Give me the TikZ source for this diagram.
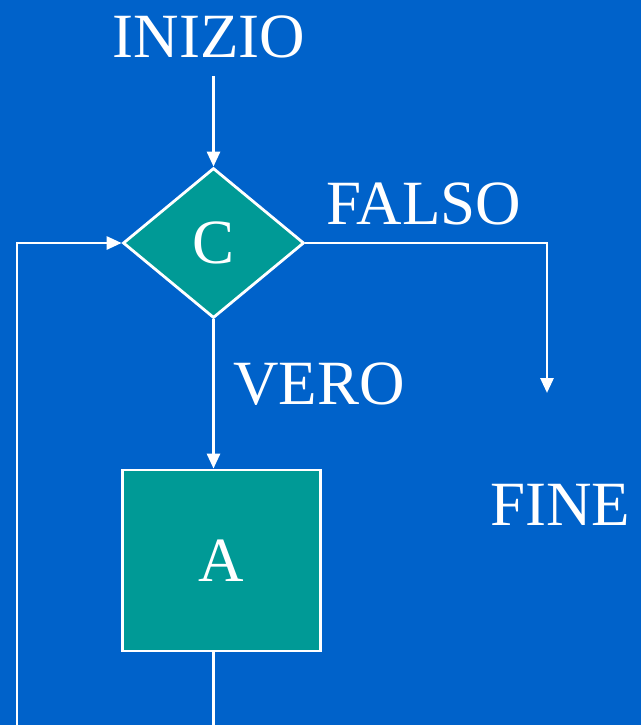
\documentclass[tikz,border=0pt]{standalone}
\usepackage{fontspec}
\setmainfont{Liberation Serif}
\usetikzlibrary{shapes.geometric,arrows.meta}
\definecolor{bgblue}{HTML}{0062CA}
\definecolor{boxteal}{HTML}{009A96}
\begin{document}
\begin{tikzpicture}[x=1pt,y=-1pt,
  flow/.style={draw=white,line width=2.8pt},
  arrowline/.style={flow,-{Triangle[length=15pt,width=13pt]}},
  lbl/.style={text=white,font=\fontsize{63}{63}\selectfont,inner sep=0pt,anchor=base},
  decision/.style={diamond,draw=white,fill=boxteal,line width=2.8pt,inner sep=0pt,
    minimum width=181pt,minimum height=150pt,text=white,font=\fontsize{63}{63}\selectfont},
  block/.style={rectangle,draw=white,fill=boxteal,line width=2.8pt,inner sep=0pt,
    minimum width=198pt,minimum height=181pt,text=white,font=\fontsize{63}{63}\selectfont}]
  % canvas
  \fill[bgblue] (0,0) rectangle (641,725);
  \useasboundingbox (0,0) rectangle (641,725);
  \clip (0,0) rectangle (641,725);

  % labels
  \node[lbl] (inizio) at (209,57) {INIZIO};
  \node[lbl] (falso) at (424,224) {FALSO};
  \node[lbl] (vero) at (319,404) {VERO};
  \node[lbl] (fine) at (560,525) {FINE};

  % blocks
  \node[decision] (c) at (213.5,243) {\raisebox{-3.5pt}{C}};
  \node[block] (a) at (221.7,560.5) {A};

  % free ends
  \coordinate (falsoend) at (547,393);
  \coordinate (loopbottom) at (17,780);

  % connectors
  \draw[arrowline,shorten <=18pt] (inizio.south -| c.north) -- (c.north);
  \draw[arrowline] (c.east) -| (falsoend);
  \draw[arrowline] (c.south) -- (a.north -| c.south);
  \draw[arrowline] (a.south -| c.south) |- (loopbottom) |- (c.west);
\end{tikzpicture}
\end{document}
